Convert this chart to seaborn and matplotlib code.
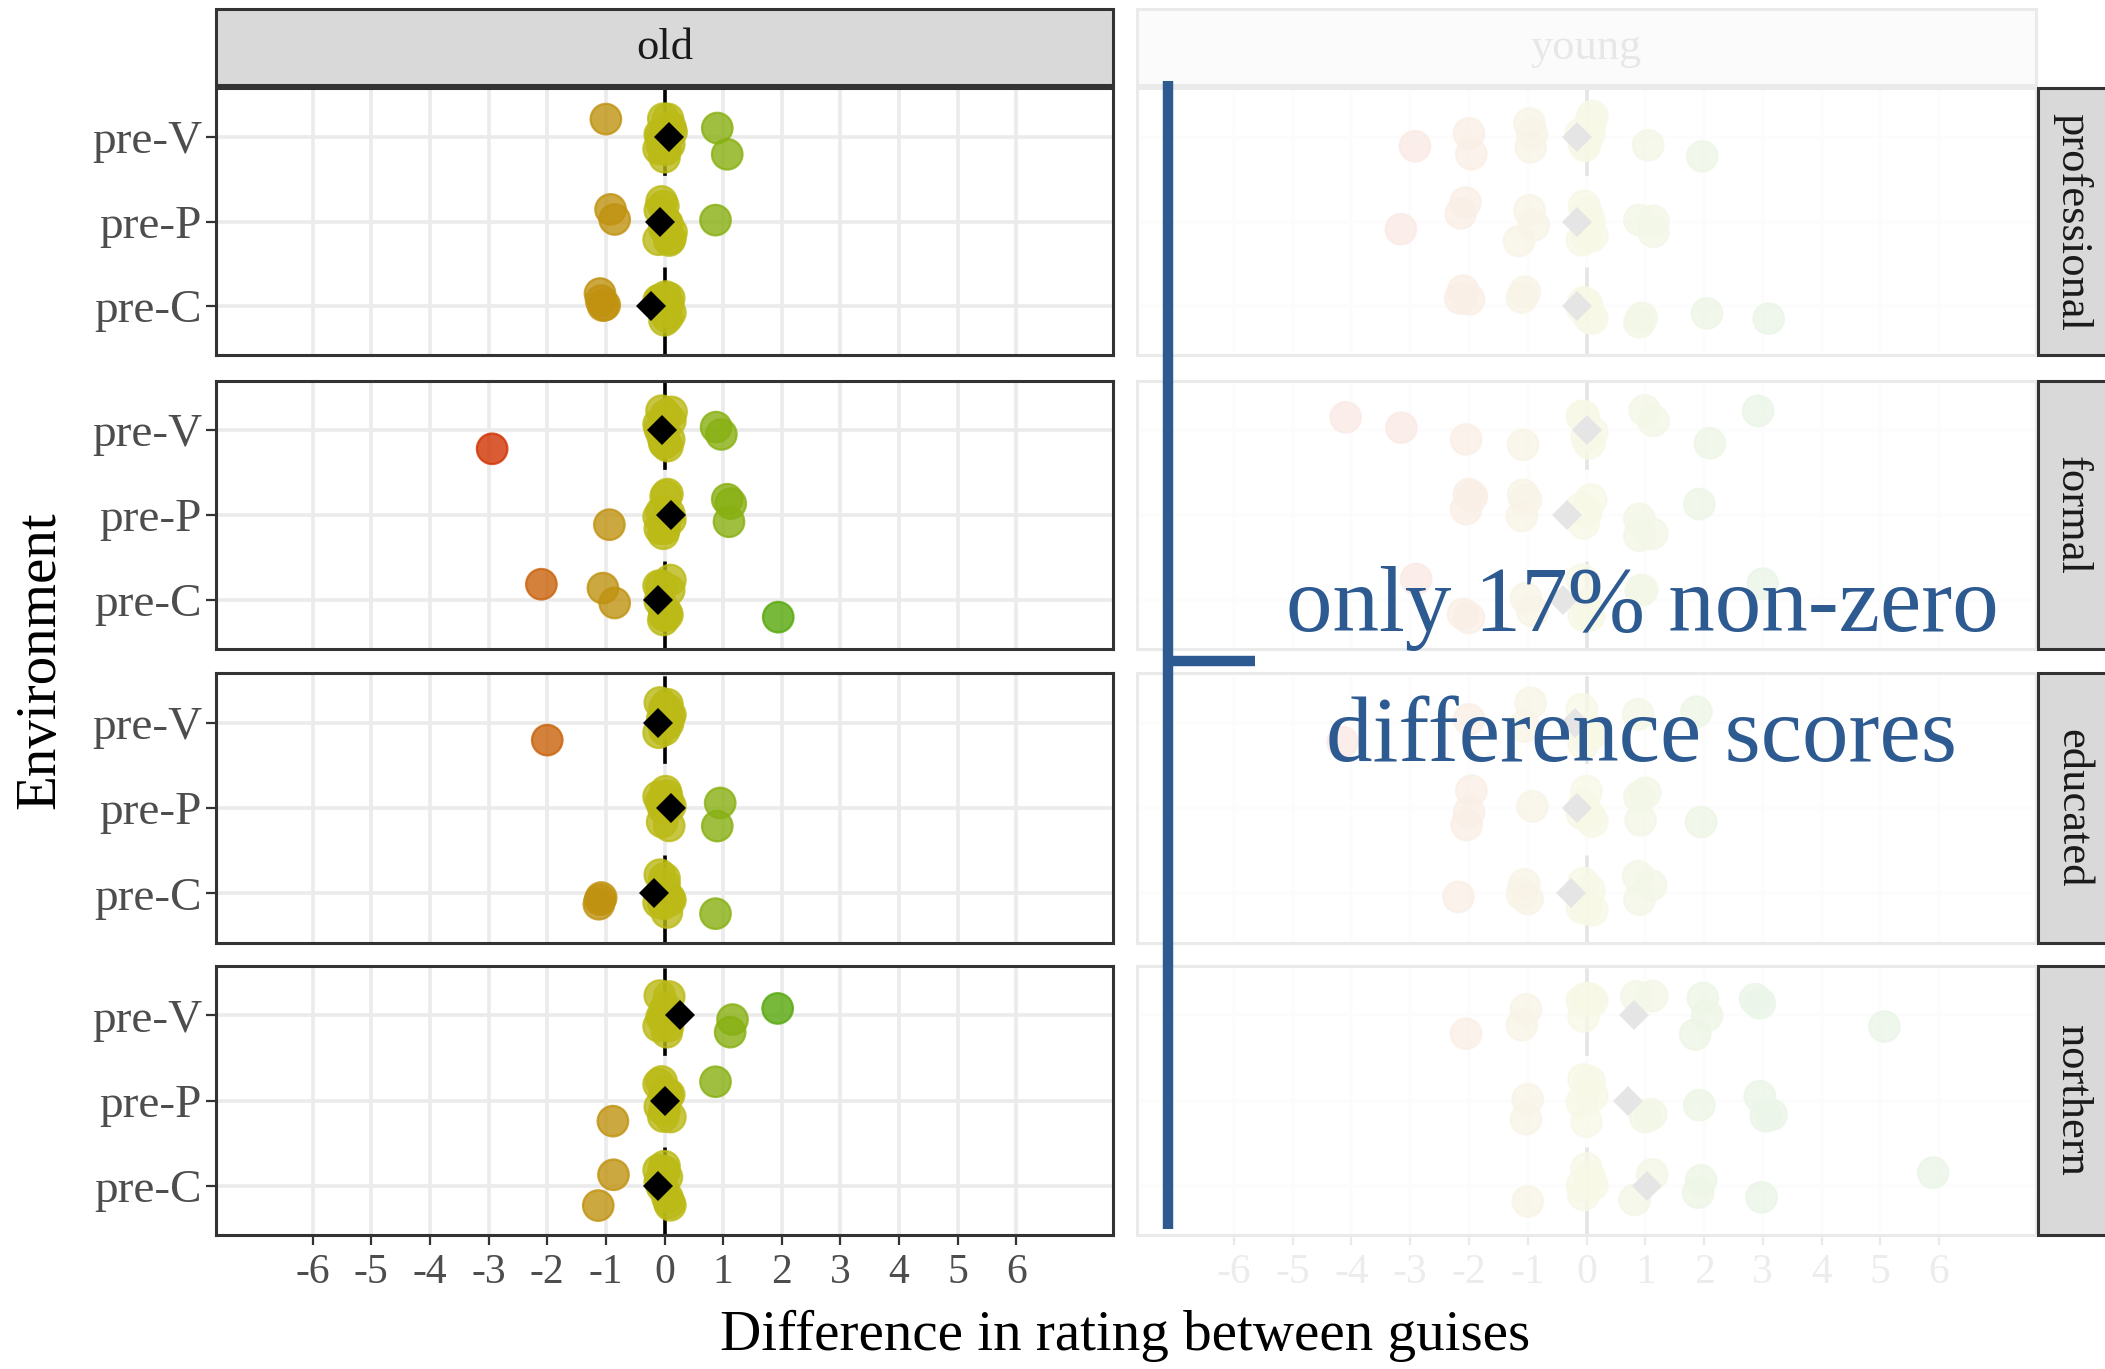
import numpy as np
import pandas as pd
import matplotlib.pyplot as plt
import matplotlib.colors as mcolors
from matplotlib.patches import Rectangle
from matplotlib.lines import Line2D
import seaborn as sns

# categories
traits = ["professional", "formal", "educated", "northern"]
ages = ["old", "young"]
envs = ["pre-V", "pre-P", "pre-C"]
x_ticks = list(range(-6, 7))

# difference scores (old speakers)
old_prof_V = [-1.0, -0.1, -0.08, -0.04, 0.0, 0.0, 0.03, 0.06, 0.1, -0.06, 0.08, 0.02, 0.12, -0.02, 0.9, 1.07]
old_prof_P = [-0.92, -0.85, -0.1, -0.05, 0.0, 0.08, -0.08, 0.05, 0.1, -0.02, 0.03, 0.12, 0.0, 0.87]
old_prof_C = [-1.1, -1.05, -1.08, -1.02, -0.06, 0.0, 0.05, 0.08, -0.03, 0.02, 0.06, -0.08, 0.1, -0.1, 0.0]
old_form_V = [-2.94, -0.05, 0.05, 0.1, -0.08, 0.0, 0.08, 0.02, -0.03, 0.12, -0.1, 0.0, 0.88, 0.97]
old_form_P = [-0.94, -0.08, 0.0, 0.05, -0.05, 0.08, 0.02, -0.1, 0.1, 0.0, -0.02, 1.07, 1.13, 1.1]
old_form_C = [-2.1, -1.05, -0.85, -0.05, 0.0, 0.05, 0.1, -0.08, 0.03, -0.02, 0.08, -0.1, 0.0, 1.94]
old_educ_V = [-2.0, -0.08, 0.0, 0.05, 0.08, -0.04, 0.02, 0.06, -0.02, 0.1, -0.1, 0.0, 0.04]
old_educ_P = [-0.06, 0.0, 0.04, 0.08, -0.04, 0.02, 0.06, -0.1, 0.1, 0.0, -0.02, 0.9, 0.95]
old_educ_C = [-1.1, -1.08, -1.12, -0.08, -0.02, 0.04, 0.08, 0.0, 0.05, -0.1, 0.1, 0.0, 0.87]
old_north_V = [-0.1, -0.05, 0.0, 0.04, 0.08, -0.02, 0.02, -0.08, 0.06, 0.0, 1.12, 1.16, 1.93]
old_north_P = [-0.88, -0.1, -0.05, 0.0, 0.05, 0.08, -0.02, 0.02, 0.1, -0.08, 0.0, 0.87]
old_north_C = [-0.87, -1.13, -0.08, -0.02, 0.04, 0.08, 0.0, 0.05, -0.1, 0.1, -0.04, 0.0]

# young speakers
young_prof_V = [-2.92, -2.0, -1.96, -0.97, -0.95, -0.93, -0.1, -0.05, 0.0, 0.05, 0.1, 0.08, -0.03, 0.0, 1.05, 1.97]
young_prof_P = [-3.16, -2.06, -2.14, -0.9, -0.97, -1.15, -0.08, 0.0, 0.05, 0.1, -0.04, 0.0, 0.9, 1.14, 1.14]
young_prof_C = [-2.1, -2.0, -2.15, -1.1, -1.05, -0.05, 0.0, 0.05, 0.1, -0.08, 0.0, 0.94, 0.9, 2.05, 3.1]
young_form_V = [-4.1, -3.15, -2.05, -1.08, -0.05, 0.0, 0.05, 0.1, -0.08, 0.99, 1.14, 2.1, 2.92]
young_form_P = [-2.0, -2.05, -1.95, -1.03, -1.08, -1.1, -0.05, 0.0, 0.08, -0.08, 0.9, 1.12, 0.9, 1.92]
young_form_C = [-2.9, -2.1, -2.0, -1.03, -0.92, -0.05, 0.0, 0.05, -0.08, 0.95, 0.92, 3.0]
young_educ_V = [-4.15, -2.0, -1.06, -0.95, -0.05, 0.0, 0.05, 0.1, -0.08, 0.88, 1.87]
young_educ_P = [-2.0, -1.96, -2.04, -0.92, -0.05, 0.0, 0.05, 0.1, -0.08, 0.9, 0.92, 1.0, 1.95]
young_educ_C = [-2.18, -1.06, -1.1, -1.0, -0.05, 0.0, 0.05, 0.1, -0.08, 0.88, 0.9, 1.1]
young_north_V = [-2.05, -1.03, -1.1, -0.05, 0.0, 0.05, 0.1, -0.08, 0.85, 1.12, 1.85, 1.98, 2.05, 2.87, 2.95, 5.07]
young_north_P = [-1.03, -1.0, -0.05, 0.0, 0.05, 0.1, -0.08, 1.0, 1.1, 1.92, 2.95, 3.15, 3.05]
young_north_C = [-1.0, -0.05, 0.0, 0.05, 0.1, -0.08, 0.82, 1.12, 1.9, 1.95, 2.98, 5.9]

# group means (black diamonds), order pre-V, pre-P, pre-C
old_means_prof = [0.07, -0.07, -0.23]
old_means_form = [-0.05, 0.11, -0.11]
old_means_educ = [-0.11, 0.11, -0.18]
old_means_north = [0.27, 0.0, -0.11]
young_means_prof = [-0.17, -0.17, -0.17]
young_means_form = [0.0, -0.34, -0.4]
young_means_educ = [-0.19, -0.17, -0.26]
young_means_north = [0.8, 0.71, 1.03]

groups = {
    ("professional", "old"): [old_prof_V, old_prof_P, old_prof_C],
    ("formal", "old"): [old_form_V, old_form_P, old_form_C],
    ("educated", "old"): [old_educ_V, old_educ_P, old_educ_C],
    ("northern", "old"): [old_north_V, old_north_P, old_north_C],
    ("professional", "young"): [young_prof_V, young_prof_P, young_prof_C],
    ("formal", "young"): [young_form_V, young_form_P, young_form_C],
    ("educated", "young"): [young_educ_V, young_educ_P, young_educ_C],
    ("northern", "young"): [young_north_V, young_north_P, young_north_C],
}
means = {
    ("professional", "old"): old_means_prof, ("formal", "old"): old_means_form,
    ("educated", "old"): old_means_educ, ("northern", "old"): old_means_north,
    ("professional", "young"): young_means_prof, ("formal", "young"): young_means_form,
    ("educated", "young"): young_means_educ, ("northern", "young"): young_means_north,
}

rows = []
for (trait, age), lists in groups.items():
    for env, vals in zip(envs, lists):
        for v in vals:
            rows.append({"trait": trait, "age": age, "env": env, "value": v})
df = pd.DataFrame(rows)
df["level"] = df["value"].round()

mrows = []
for (trait, age), ms in means.items():
    for env, m in zip(envs, ms):
        mrows.append({"trait": trait, "age": age, "env": env, "mean": m})
mdf = pd.DataFrame(mrows)

# style
sns.set_theme(style="white")
plt.rcParams["font.family"] = ["Liberation Serif", "DejaVu Serif"]
plt.rcParams["axes.unicode_minus"] = False
plt.rcParams["lines.scale_dashes"] = False

cmap = mcolors.LinearSegmentedColormap.from_list(
    "diff", ["#D03301", "#CA630B", "#C09210", "#BCBA16", "#88B012", "#56A80B", "#3A9E20"])
blue = "#2D5A91"
dark = "#333333"

W, H = 2105, 1369
fig = plt.figure(figsize=(W / 100, H / 100), dpi=100)


def fbox(x0, y0, x1, y1):
    return [x0 / W, 1 - y1 / H, (x1 - x0) / W, (y1 - y0) / H]


row_y = [(88, 355), (381, 649), (673, 943), (966, 1235)]
col_x = [(216, 1113), (1137, 2036)]

np.random.seed(7)
for i, trait in enumerate(traits):
    for j, age in enumerate(ages):
        x0, x1 = col_x[j]
        y0, y1 = row_y[i]
        ax = fig.add_axes(fbox(x0, y0, x1, y1))
        sub = df[(df.trait == trait) & (df.age == age)]
        sns.stripplot(data=sub, x="value", y="env", order=envs, orient="h",
                      hue="level", palette=cmap, hue_norm=(-3, 3), legend=False,
                      jitter=0.25, size=22, linewidth=1.6, edgecolor="face",
                      alpha=0.8, zorder=3, ax=ax)
        msub = mdf[(mdf.trait == trait) & (mdf.age == age)]
        sns.pointplot(data=msub, x="mean", y="env", order=envs, orient="h",
                      color="black", markers="D", linestyles="none", errorbar=None,
                      markersize=15, markeredgewidth=0, zorder=6, ax=ax)
        ax.axvline(0, color="black", lw=2.6, dashes=(63, 66), zorder=2)
        ax.set_xlim(-7.65, 7.65)
        ax.set_ylim(2.58, -0.58)
        ax.set_xticks(x_ticks)
        ax.set_yticks(range(3))
        ax.set_yticklabels(envs)
        ax.grid(True, color="#EBEBEB", lw=2.6)
        ax.set_axisbelow(True)
        ax.set_xlabel("")
        ax.set_ylabel("")
        for s in ax.spines.values():
            s.set_color(dark)
            s.set_linewidth(2.2)
        ax.tick_params(axis="both", colors=dark, labelcolor="#4D4D4D",
                       width=1.6, length=7)
        ax.tick_params(axis="x", pad=6, labelsize=30,
                       bottom=(i == 3), labelbottom=(i == 3))
        ax.tick_params(axis="y", pad=3, labelsize=34,
                       left=(j == 0), labelleft=(j == 0))

# top strips
for j, age in enumerate(ages):
    x0, x1 = col_x[j]
    fig.add_artist(Rectangle((x0 / W, 1 - 85 / H), (x1 - x0) / W, 76 / H,
                             transform=fig.transFigure, fc="#D9D9D9", ec=dark,
                             lw=2.2, zorder=1))
    fig.text((x0 + x1) / 2 / W, 1 - 48 / H, age, ha="center", va="center",
             size=32, color="#1A1A1A", zorder=3)

# fade the young column
fig.add_artist(Rectangle((1122 / W, 1 - 1300 / H), (2040 - 1122) / W, 1300 / H,
                         transform=fig.transFigure, fc="white", ec="none",
                         alpha=0.9, zorder=5))

# right strips
for i, trait in enumerate(traits):
    y0, y1 = row_y[i]
    fig.add_artist(Rectangle((2038 / W, 1 - y1 / H), 80 / W, (y1 - y0) / H,
                             transform=fig.transFigure, fc="#D9D9D9", ec=dark,
                             lw=2.2, zorder=6))
    fig.text(2072 / W, 1 - (y0 + y1) / 2 / H, trait, rotation=270, ha="center",
             va="center", size=32, color="#1A1A1A", zorder=7)

# axis titles
fig.text(40 / W, 1 - 660 / H, "Environment", rotation=90, ha="center",
         va="center", size=41, color="black")
fig.text(1125 / W, 1 - 1350 / H, "Difference in rating between guises",
         ha="center", va="baseline", size=41, color="black")

# annotation bracket and text
fig.add_artist(Line2D([1168 / W, 1168 / W], [1 - 81 / H, 1 - 1229 / H],
                      transform=fig.transFigure, color=blue, lw=7.5,
                      solid_capstyle="butt", zorder=10))
fig.add_artist(Line2D([1164 / W, 1255 / W], [1 - 661 / H, 1 - 661 / H],
                      transform=fig.transFigure, color=blue, lw=7.5,
                      solid_capstyle="butt", zorder=10))
fig.text(1642 / W, 1 - 631 / H, "only 17% non-zero", ha="center",
         va="baseline", size=67, color=blue, zorder=11)
fig.text(1642 / W, 1 - 761 / H, "difference scores", ha="center",
         va="baseline", size=67, color=blue, zorder=11)

fig.savefig("out.png", dpi=100)
